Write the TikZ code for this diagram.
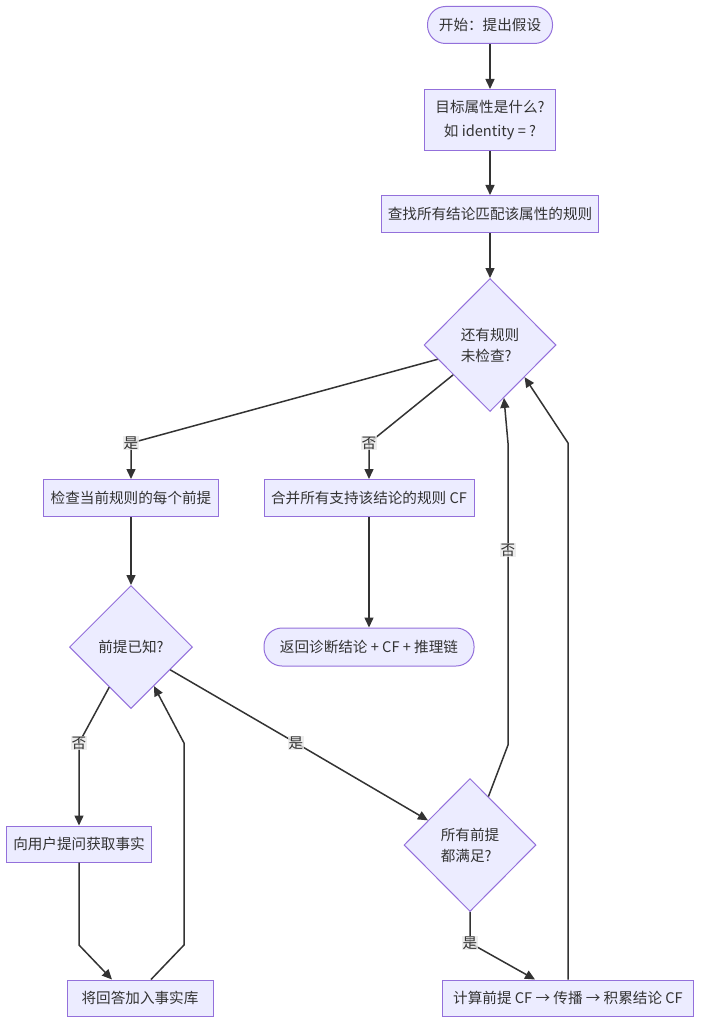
\documentclass[tikz,border=0pt]{standalone}
\usepackage{fontspec}
\setmainfont{Noto Sans CJK SC}
\usetikzlibrary{shapes.geometric,arrows.meta,calc}
\definecolor{nodefill}{HTML}{ECECFF}
\definecolor{nodeborder}{HTML}{9370DB}
\definecolor{txt}{HTML}{333333}
\definecolor{lbl}{HTML}{E8E8E8}
\begin{document}
\begin{tikzpicture}[x=1pt,y=-1pt,
  box/.style={draw=nodeborder,fill=nodefill,line width=1pt,text=txt,inner sep=0pt,
    font=\fontsize{14.6}{17}\selectfont},
  stadium/.style={box,rounded corners=18pt},
  dia/.style={box,diamond,align=left,minimum width=132pt,minimum height=133pt,
    font=\fontsize{14.6}{21}\selectfont},
  flow/.style={draw=txt,line width=1.5pt,-{Triangle[length=10pt,width=9pt]}},
  lab/.style={fill=lbl,fill opacity=0.8,text opacity=1,text=txt,inner sep=1pt,
    font=\fontsize{14.6}{17}\selectfont}]
\useasboundingbox (0,0) rectangle (701,1024);
% nodes
\node[stadium,minimum width=125pt,minimum height=37pt] (start) at (490,25) {开始：提出假设};
\node[box,minimum width=131pt,minimum height=61pt,align=center,font=\fontsize{14.6}{24}\selectfont] (q1) at (490,120) {目标属性是什么?\\如 identity = ?};
\node[box,minimum width=217pt,minimum height=37pt] (find) at (490,214) {查找所有结论匹配该属性的规则};
\node[dia] (d1) at (490,345) {还有规则\\未检查?};
\node[box,minimum width=175pt,minimum height=37pt] (check) at (131,498) {检查当前规则的每个前提};
\node[box,minimum width=210pt,minimum height=37pt] (merge) at (369,498) {合并所有支持该结论的规则 CF};
\node[stadium,minimum width=210pt,minimum height=38pt] (ret) at (369,647) {返回诊断结论 + CF + 推理链};
\node[dia,minimum width=123pt,minimum height=123pt] (d2) at (131,647) {前提已知?};
\node[box,minimum width=145pt,minimum height=36pt] (ask) at (79,844) {向用户提问获取事实};
\node[box,minimum width=146pt,minimum height=36pt] (add) at (140,998) {将回答加入事实库};
\node[dia] (d3) at (470,845) {所有前提\\都满足?};
\node[box,minimum width=251pt,minimum height=36pt] (calc) at (568,998) {计算前提 CF → 传播 → 积累结论 CF};
% bend points
\coordinate (b1) at (131,443);
\coordinate (b2) at (369,443);
\coordinate (b3) at (79,743);
\coordinate (b4) at (296,743);
\coordinate (b5) at (79,945);
\coordinate (b6a) at (184,945);
\coordinate (b6b) at (184,743);
\coordinate (b7a) at (508,745);
\coordinate (b7b) at (508,443);
\coordinate (b8) at (568,443);
\coordinate (b9) at (470,943);
\coordinate (b7l) at (508,550);
% edges
\draw[flow] (start) -- (q1);
\draw[flow] (q1) -- (find);
\draw[flow] (find) -- (d1);
\draw[flow] (d1) -- (b1) -- (check);
\draw[flow] (d1) -- (b2) -- (merge);
\draw[flow] (merge) -- (ret);
\draw[flow] (check) -- (d2);
\draw[flow] (d2) -- (b3) -- (ask);
\draw[flow] (d2) -- (b4) -- (d3);
\draw[flow] (ask) -- (b5) -- ($(add.north)+(-28,0)$);
\draw[flow] ($(add.north)+(11,0)$) -- (b6a) -- (b6b) -- ($(d2.east)!0.63!(d2.south)$);
\draw[flow] (d3) -- (b7a) -- (b7b) -- ($(d1.east)!0.79!(d1.south)$);
\draw[flow] (calc.north) -- (b8) -- ($(d1.east)!0.48!(d1.south)$);
\draw[flow] (d3) -- (b9) -- (calc);
% labels
\node[lab] (l1) at (b1) {是};
\node[lab] (l2) at (b2) {否};
\node[lab] (l3) at (b3) {否};
\node[lab] (l4) at (b4) {是};
\node[lab] (l5) at (b7l) {否};
\node[lab] (l6) at (b9) {是};
\end{tikzpicture}
\end{document}
